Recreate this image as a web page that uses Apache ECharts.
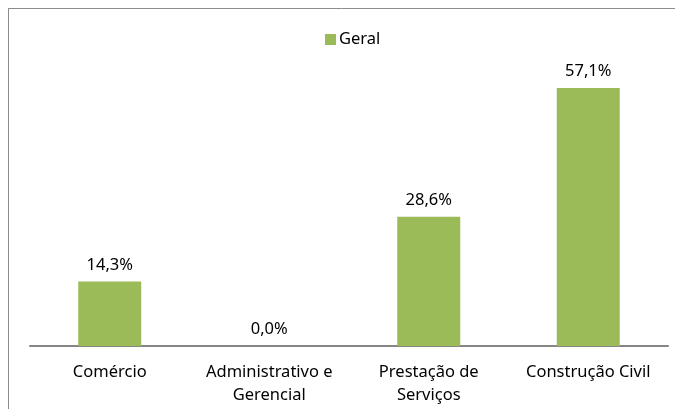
<!DOCTYPE html>
<html lang="pt">
<head>
    <meta charset="UTF-8">
    <title>Geral</title>
    <script src="https://cdn.jsdelivr.net/npm/echarts@6/dist/echarts.min.js"></script>
    <style>
        html, body { margin: 0; padding: 0; background: #fff; }
        #chart { width: 675px; height: 409px; }
    </style>
</head>
<body>
    <div id="chart"></div>
    <script>
        var categories = ['Comércio', 'Administrativo e\nGerencial', 'Prestação de\nServiços', 'Construção Civil'];
        var geral = [14.3, 0.0, 28.6, 57.1];

        var font = 'Noto Sans';
        var fs = 16.5;
        var chart = echarts.init(document.getElementById('chart'));
        chart.setOption({
            backgroundColor: '#fff',
            animation: false,
            textStyle: { fontFamily: font },
            graphic: [
                { type: 'line', shape: { x1: 8, y1: 8.5, x2: 675, y2: 8.5 }, style: { stroke: '#8c8c8c', lineWidth: 1 } },
                { type: 'line', shape: { x1: 8.5, y1: 8, x2: 8.5, y2: 409 }, style: { stroke: '#8c8c8c', lineWidth: 1 } }
            ],
            legend: {
                data: ['Geral'],
                left: 320,
                top: 26,
                itemWidth: 11,
                itemHeight: 11,
                itemGap: 5,
                icon: 'rect',
                textStyle: { fontFamily: font, fontSize: fs, color: '#000', padding: [0, 0, 0, -2] }
            },
            grid: { left: 30, right: 7, top: 75, bottom: 63 },
            xAxis: {
                type: 'category',
                data: categories,
                axisTick: { show: false },
                axisLine: { lineStyle: { color: '#868686', width: 2 } },
                axisLabel: { color: '#000', fontSize: fs, fontFamily: font, margin: 15, lineHeight: 23, interval: 0 }
            },
            yAxis: {
                type: 'value',
                min: 0,
                max: 60,
                show: false
            },
            series: [{
                name: 'Geral',
                type: 'bar',
                data: geral,
                barWidth: 63,
                itemStyle: { color: '#9bbb59' },
                label: {
                    show: true,
                    position: 'top',
                    distance: 8,
                    color: '#000',
                    fontSize: fs,
                    fontFamily: font,
                    formatter: function (p) { return p.value.toFixed(1).replace('.', ',') + '%'; }
                }
            }]
        });
    </script>
</body>
</html>
